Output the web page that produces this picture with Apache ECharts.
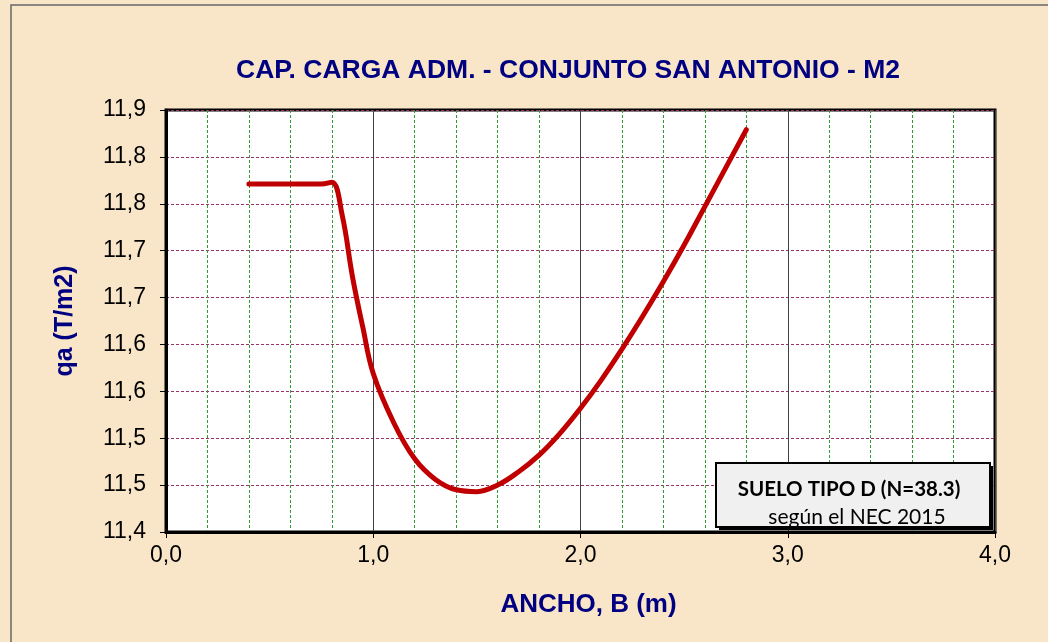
<!DOCTYPE html>
<html>
<head>
<meta charset="utf-8">
<script src="https://cdn.jsdelivr.net/npm/echarts@6/dist/echarts.min.js"></script>
<style>
  html, body { margin: 0; padding: 0; background: #F9E6C9; }
  #chart { width: 1048px; height: 642px; }
</style>
</head>
<body>
<div id="chart"></div>
<script>
// Footing width B (m) and allowable bearing capacity qa (T/m2)
const anchoB = [0.4, 0.5, 0.6, 0.7, 0.75, 0.8, 0.85, 0.9, 0.95, 1.0, 1.1, 1.2, 1.3, 1.4, 1.5, 1.6, 1.7, 1.8, 1.9, 2.0, 2.1, 2.2, 2.3, 2.4, 2.5, 2.6, 2.7, 2.8];
const qa = [11.771, 11.771, 11.771, 11.771, 11.771, 11.773, 11.738, 11.672, 11.618, 11.569, 11.516, 11.478, 11.456, 11.445, 11.443, 11.450, 11.464, 11.482, 11.505, 11.532, 11.562, 11.595, 11.630, 11.667, 11.706, 11.747, 11.788, 11.829];

const titulo = 'CAP. CARGA ADM. - CONJUNTO SAN ANTONIO - M2';
const ejeX = 'ANCHO, B (m)';
const ejeY = 'qa (T/m2)';
const notaSuelo = 'SUELO TIPO D (N=38.3)';
const notaNorma = 'según el NEC 2015';

const puntos = anchoB.map((b, i) => [b, qa[i]]);
const coma = (v, d) => v.toFixed(d).replace('.', ',');

const chart = echarts.init(document.getElementById('chart'), null, { renderer: 'canvas' });
chart.setOption({
  backgroundColor: '#F9E6C9',
  animation: false,
  title: {
    text: titulo,
    left: 563,
    top: 52,
    textAlign: 'center',
    textStyle: { fontFamily: 'Liberation Sans', fontSize: 26.5, fontWeight: 'bold', color: '#000080' }
  },
  grid: {
    left: 166, top: 110, width: 829, height: 422,
    show: true, backgroundColor: '#ffffff', borderColor: '#000000', borderWidth: 3
  },
  xAxis: {
    type: 'value', min: 0, max: 4, interval: 1,
    name: ejeX, nameLocation: 'middle', nameGap: 60,
    nameTextStyle: { fontFamily: 'Liberation Sans', fontSize: 26, fontWeight: 'bold', color: '#000080', padding: [0, 0, 0, 16] },
    axisLine: { show: true, lineStyle: { color: '#000', width: 3 } },
    axisTick: { show: true, inside: false, length: 6, lineStyle: { color: '#000', width: 1 } },
    axisLabel: { margin: 12, fontFamily: 'Liberation Sans', fontSize: 23, color: '#000', formatter: v => coma(v, 1) },
    splitLine: { show: true, lineStyle: { color: '#404040', width: 1, type: 'solid' } },
    minorTick: { show: false, splitNumber: 5 },
    minorSplitLine: { show: true, lineStyle: { color: '#2f9e2f', width: 1, type: [3, 2] } }
  },
  yAxis: {
    type: 'value', min: 11.40, max: 11.85, interval: 0.05,
    name: ejeY, nameLocation: 'middle', nameGap: 88, nameRotate: 90,
    nameTextStyle: { fontFamily: 'Liberation Sans', fontSize: 25, fontWeight: 'bold', color: '#000080' },
    axisLine: { show: true, lineStyle: { color: '#000', width: 3 } },
    axisTick: { show: true, inside: false, length: 6, lineStyle: { color: '#000', width: 1 } },
    axisLabel: {
      margin: 20, fontFamily: 'Liberation Sans', fontSize: 23, color: '#000',
      formatter: v => coma(Math.round(v * 10 + 1e-6) / 10, 1)
    },
    splitLine: { show: true, lineStyle: { color: '#993366', width: 1, type: [3, 2] } }
  },
  series: [{
    type: 'line',
    data: puntos,
    smooth: 0.4,
    showSymbol: false,
    lineStyle: { color: '#C00000', width: 5, cap: 'round', join: 'round' },
    z: 5
  }],
  graphic: [
    {
      type: 'rect', silent: true, z: -1,
      shape: { x: 11, y: 5, width: 1100, height: 700 },
      style: { fill: 'none', stroke: '#666666', lineWidth: 1.5 }
    },
    {
      type: 'rect', silent: true, z: 10,
      shape: { x: 719, y: 466, width: 274, height: 64 },
      style: { fill: '#000000' }
    },
    {
      type: 'rect', silent: true, z: 11,
      shape: { x: 716, y: 463, width: 274, height: 64 },
      style: { fill: '#F0F0F0', stroke: '#000000', lineWidth: 2 }
    },
    {
      type: 'text', silent: true, z: 12,
      x: 849, y: 489,
      style: { text: notaSuelo, fill: '#000', font: 'bold 20.5px Lato', align: 'center', verticalAlign: 'middle' }
    },
    {
      type: 'text', silent: true, z: 12,
      x: 857, y: 517,
      style: { text: notaNorma, fill: '#000', font: '21px Lato', align: 'center', verticalAlign: 'middle' }
    }
  ]
});
</script>
</body>
</html>
